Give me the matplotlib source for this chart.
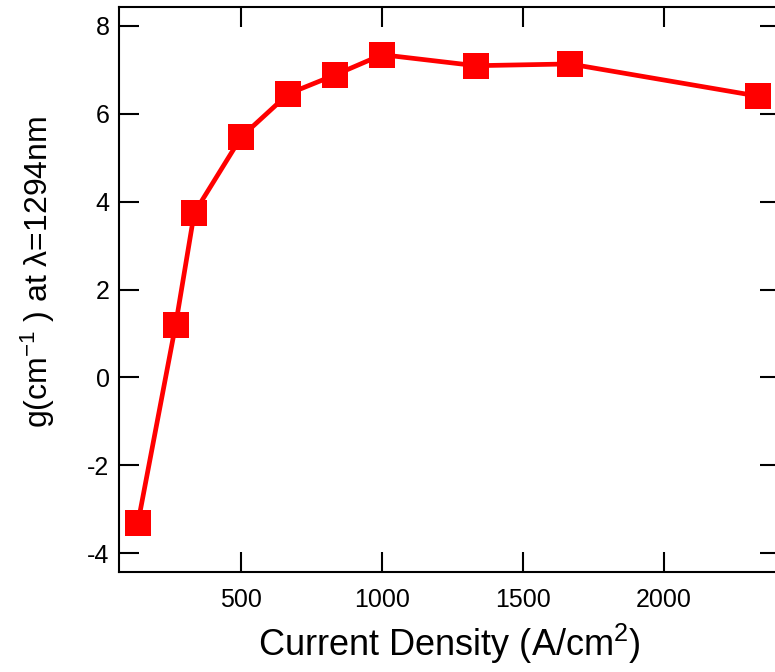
import matplotlib
matplotlib.use("Agg")
import matplotlib.pyplot as plt

plt.rcParams['font.family'] = ['Liberation Sans', 'DejaVu Sans']
plt.rcParams['mathtext.fontset'] = 'custom'
plt.rcParams['mathtext.rm'] = 'Liberation Sans'
plt.rcParams['mathtext.it'] = 'Liberation Sans'
plt.rcParams['axes.unicode_minus'] = False

# data
current_density = [133, 267, 333, 500, 667, 833, 1000, 1333, 1667, 2333]
gain = [-3.31, 1.20, 3.74, 5.47, 6.45, 6.88, 7.34, 7.09, 7.13, 6.40]

x_ticks = [500, 1000, 1500, 2000]
y_ticks = [-4, -2, 0, 2, 4, 6, 8]

fig = plt.figure(figsize=(7.75, 6.72), dpi=100)
ax = fig.add_axes([0.1539, 0.1484, 1.0065 - 0.1539, 0.9896 - 0.1484])

ax.plot(current_density, gain, color='#ff0000', linewidth=3.4,
        marker='s', markersize=18.7, markeredgewidth=0)

ax.set_xlim(66.8, 2413)
ax.set_ylim(-4.43, 8.425)
ax.set_xticks(x_ticks)
ax.set_yticks(y_ticks)

for s in ax.spines.values():
    s.set_linewidth(1.5)

ax.tick_params(axis='x', direction='in', length=14.5, width=1.5, pad=11.5,
               labelsize=18, top=True)
ax.tick_params(axis='y', direction='in', length=14.5, width=1.5, pad=7,
               labelsize=18, right=True)

ax.set_xlabel('Current Density (A/cm$^{2}$)', fontsize=26, labelpad=7)
ax.set_ylabel(r'g(cm$^{-1}$ ) at $\lambda$=1294nm', fontsize=23)
ax.yaxis.set_label_coords(-0.094, 0.532)

fig.savefig('out.png', dpi=100)
